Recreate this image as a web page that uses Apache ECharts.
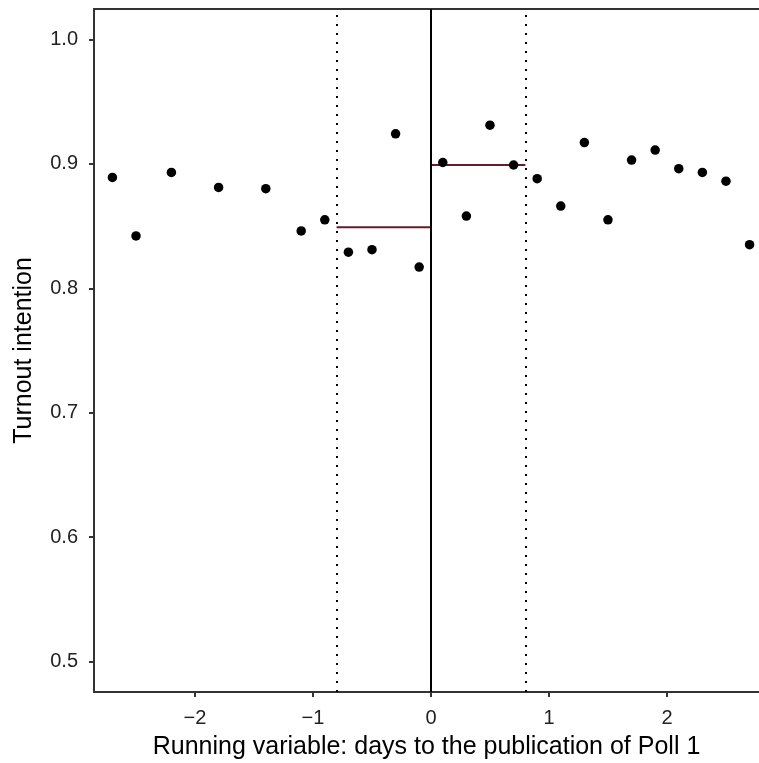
<!DOCTYPE html>
<html>
<head>
  <meta charset="utf-8">
  <title>Turnout intention RD plot</title>
  <script src="https://cdn.jsdelivr.net/npm/echarts@6/dist/echarts.min.js"></script>
  <style>
    html, body { margin: 0; padding: 0; background: #fff; }
    #chart { width: 759px; height: 763px; }
  </style>
</head>
<body>
<div id="chart"></div>
<script>
  // binned means, days to Poll 1 publication
  var days = [-2.7, -2.5, -2.2, -1.8, -1.4, -1.1, -0.9, -0.7, -0.5, -0.3, -0.1,
    0.1, 0.3, 0.5, 0.7, 0.9, 1.1, 1.3, 1.5, 1.7, 1.9, 2.1, 2.3, 2.5, 2.7];
  var turnout = [0.889, 0.842, 0.893, 0.881, 0.880, 0.846, 0.855, 0.829, 0.831, 0.924, 0.817,
    0.901, 0.858, 0.931, 0.899, 0.888, 0.866, 0.917, 0.855, 0.903, 0.911, 0.896, 0.893, 0.886, 0.835];
  var bandwidth = 0.8;
  var leftMean = 0.849;
  var rightMean = 0.899;
  var xTicks = [-2, -1, 0, 1, 2];
  var yTicks = [0.5, 0.6, 0.7, 0.8, 0.9, 1.0];

  var points = days.map(function (d, i) { return [d, turnout[i]]; });
  var font = 'Liberation Sans, Arial, sans-serif';
  var axisCol = '#333';

  var chart = echarts.init(document.getElementById('chart'));
  chart.setOption({
    animation: false,
    grid: { left: 94, right: 0, top: 9, bottom: 71, outerBoundsMode: 'none', containLabel: false },
    xAxis: [{
      type: 'value',
      min: -2.856,
      max: 2.78,
      splitLine: { show: false },
      axisLine: { show: true, onZero: false, lineStyle: { color: axisCol, width: 2 } },
      axisTick: { show: true, length: 5, customValues: xTicks, lineStyle: { color: axisCol, width: 2 } },
      axisLabel: {
        customValues: xTicks,
        color: '#222', fontSize: 20, fontFamily: font, margin: 16,
        formatter: function (v) { return String(v).replace('-', '\u2212'); }
      },
      name: 'Running variable: days to the publication of Poll 1',
      nameLocation: 'middle',
      nameGap: 43,
      nameTextStyle: { color: '#000', fontSize: 25, fontFamily: font }
    }, {
      type: 'value',
      position: 'top',
      min: -2.856,
      max: 2.78,
      splitLine: { show: false },
      axisLine: { show: true, onZero: false, lineStyle: { color: axisCol, width: 2 } },
      axisTick: { show: false },
      axisLabel: { show: false }
    }],
    yAxis: {
      type: 'value',
      min: 0.4757,
      max: 1.0243,
      splitLine: { show: false },
      axisLine: { show: true, onZero: false, lineStyle: { color: axisCol, width: 2 } },
      axisTick: { show: true, length: 5, customValues: yTicks, lineStyle: { color: axisCol, width: 2 } },
      axisLabel: {
        customValues: yTicks,
        color: '#222', fontSize: 20, fontFamily: font, margin: 16,
        formatter: function (v) { return v.toFixed(1); }
      },
      name: 'Turnout intention',
      nameLocation: 'middle',
      nameGap: 57,
      nameTextStyle: { color: '#000', fontSize: 25, fontFamily: font }
    },
    series: [{
      type: 'line',
      data: [[-bandwidth, leftMean], [0, leftMean]],
      symbol: 'none',
      lineStyle: { color: '#661a2e', width: 2 },
      z: 3
    }, {
      type: 'line',
      data: [[0, rightMean], [bandwidth, rightMean]],
      symbol: 'none',
      lineStyle: { color: '#661a2e', width: 2 },
      z: 3
    }, {
      type: 'scatter',
      data: points,
      symbolSize: 9.5,
      itemStyle: { color: '#000', opacity: 1 },
      z: 4,
      markLine: {
        silent: true,
        symbol: 'none',
        label: { show: false },
        data: [
          { xAxis: 0, lineStyle: { type: 'solid', color: '#000', width: 2 } },
          { xAxis: -bandwidth, lineStyle: { type: [2, 7], color: '#000', width: 2 } },
          { xAxis: bandwidth, lineStyle: { type: [2, 7], color: '#000', width: 2 } }
        ]
      }
    }]
  });
</script>
</body>
</html>
